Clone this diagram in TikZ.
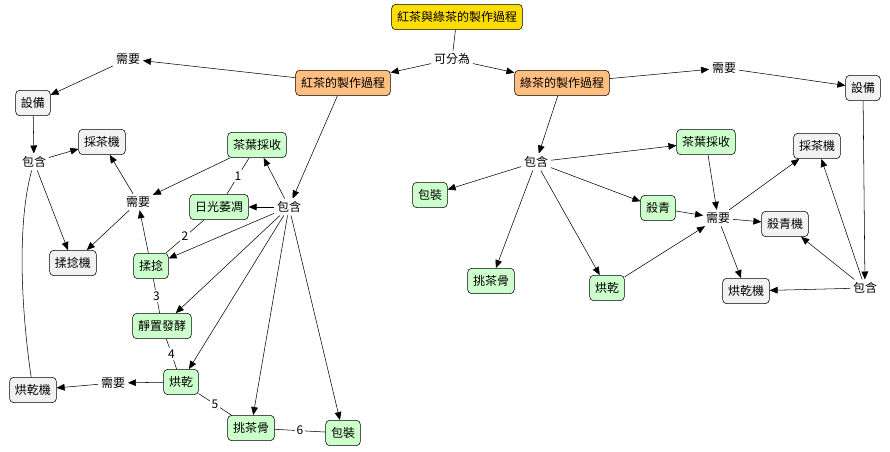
\documentclass[tikz,border=0pt]{standalone}
\usepackage{fontspec}
\setmainfont{Noto Sans CJK TC}
\usetikzlibrary{arrows.meta}
\begin{document}
\begin{tikzpicture}[x=0.75pt,y=-0.75pt,
 box/.style={draw,rounded corners=3pt,inner sep=4pt,minimum height=19pt,font=\small},
 g/.style={box,fill=green!20!white},
 s/.style={box,fill=blue!5!gray!10},
 o/.style={box,fill=orange!50},
 t/.style={font=\small,inner sep=2pt},
 lb/.style={font=\small,fill=white,inner sep=1pt},
 a/.style={-{Triangle[length=6pt,width=5pt]}},
 every node/.append style={text=black}]
\useasboundingbox (0,0) rectangle (890,452);
\node[box,fill=yellow!80!orange] (T) at (457,17) {紅茶與綠茶的製作過程};
\node[t] (K) at (452,59) {可分為};
\node[o] (H) at (343,83) {紅茶的製作過程};
\node[o] (L) at (562,83) {綠茶的製作過程};
\node[t] (n1) at (128,59) {需要};
\node[s] (e1) at (33,103) {設備};
\node[t] (b1) at (34,162) {包含};
\node[s] (c1) at (102,142) {採茶機};
\node[s] (r1) at (73,263) {揉捻機};
\node[s] (d1) at (33,390) {烘乾機};
\node[t] (n2) at (138,202) {需要};
\node[g] (h1) at (257,145) {茶葉採收};
\node[g] (h2) at (219,207) {日光萎凋};
\node[t] (b2) at (289,207) {包含};
\node[g] (h3) at (151,266) {揉捻};
\node[g] (h4) at (162,326) {靜置發酵};
\node[g] (h5) at (181,382) {烘乾};
\node[t] (n3) at (113,383) {需要};
\node[g] (h6) at (251,428) {挑茶骨};
\node[g] (h7) at (343,433) {包裝};
\node[t] (m1) at (724,68) {需要};
\node[s] (e2) at (863,88) {設備};
\node[t] (b3) at (536,162) {包含};
\node[g] (l1) at (706,142) {茶葉採收};
\node[g] (l2) at (430,195) {包裝};
\node[g] (l3) at (491,281) {挑茶骨};
\node[g] (l4) at (658,208) {殺青};
\node[g] (l5) at (607,288) {烘乾};
\node[t] (m2) at (718,218) {需要};
\node[s] (c2) at (817,146) {採茶機};
\node[s] (k2) at (785,224) {殺青機};
\node[s] (d2) at (746,291) {烘乾機};
\node[t] (b4) at (865,288) {包含};
\draw (T) -- (K);
\draw[a] (K) -- (H); \draw[a] (K) -- (L);
\draw[a] (H) -- (n1); \draw[a] (n1) -- (e1); \draw[a] (e1) -- (b1);
\draw[a] (b1) -- (c1); \draw[a] (b1) -- (r1);
\draw (b1) .. controls (18,220) and (20,300) .. (d1);
\draw[a] (H) -- (b2);
\foreach \x in {h1,h2,h3,h4,h5,h6,h7} \draw[a] (b2) -- (\x);
\draw[a] (h1) -- (n2); \draw[a] (h3) -- (n2);
\draw[a] (n2) -- (c1); \draw[a] (n2) -- (r1);
\draw[a] (h5) -- (n3); \draw[a] (n3) -- (d1);
\draw (h1) -- node[lb]{1} (h2);
\draw (h2) -- node[lb]{2} (h3);
\draw (h3) -- node[lb]{3} (h4);
\draw (h4) -- node[lb]{4} (h5);
\draw (h5) -- node[lb]{5} (h6);
\draw (h6) -- node[lb]{6} (h7);
\draw[a] (L) -- (m1); \draw[a] (m1) -- (e2);
\draw[a] (e2) -- (b4);
\draw[a] (b4) -- (d2); \draw[a] (b4) -- (k2); \draw[a] (b4) -- (c2);
\draw[a] (L) -- (b3);
\foreach \x in {l1,l2,l3,l4,l5} \draw[a] (b3) -- (\x);
\draw[a] (l1) -- (m2); \draw[a] (l4) -- (m2); \draw[a] (l5) -- (m2);
\draw[a] (m2) -- (c2); \draw[a] (m2) -- (k2); \draw[a] (m2) -- (d2);
\end{tikzpicture}
\end{document}
